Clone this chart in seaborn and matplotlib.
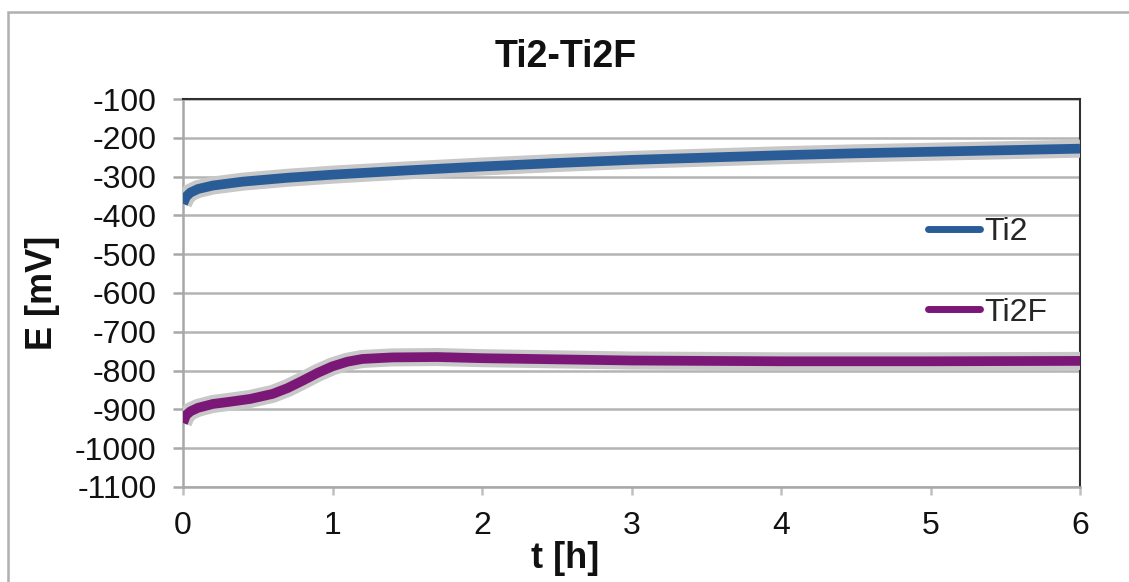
import matplotlib
matplotlib.use("Agg")
import matplotlib.pyplot as plt
import matplotlib.patheffects as pe
from matplotlib.lines import Line2D
from matplotlib.patches import Rectangle
import seaborn as sns
import pandas as pd

# ---- data ----
t_ti2 = [0, 0.02, 0.05, 0.1, 0.2, 0.4, 0.7, 1.0, 1.5, 2.0, 2.5, 3.0, 3.5, 4.0, 4.5, 5.0, 5.5, 6.0]
e_ti2 = [-370, -352, -341, -332, -323, -313, -303, -295, -284, -274, -265, -257, -251, -245, -240, -236, -232, -228]

t_ti2f = [0, 0.02, 0.05, 0.1, 0.2, 0.3, 0.45, 0.6, 0.7, 0.8, 0.9, 1.0, 1.1, 1.2, 1.4, 1.7, 2.0, 2.5, 3.0, 3.5, 4.0, 5.0, 6.0]
e_ti2f = [-935, -915, -905, -896, -886, -881, -873, -860, -845, -826, -806, -789, -777, -770, -766, -765, -768, -771, -774, -775, -776, -776, -775]

series_names = ["Ti2", "Ti2F"]
series_colors = ["#2a5d98", "#7b1877"]
title = "Ti2-Ti2F"
xlabel = "t [h]"
ylabel = "E [mV]"
yticks = list(range(-1100, 0, 100))
xticks = [0, 1, 2, 3, 4, 5, 6]

df = pd.concat([
    pd.DataFrame({"t": t_ti2, "E": e_ti2, "s": series_names[0]}),
    pd.DataFrame({"t": t_ti2f, "E": e_ti2f, "s": series_names[1]}),
])

sns.set_theme(style="white")
plt.rcParams["font.family"] = ["Liberation Sans", "DejaVu Sans"]
plt.rcParams["axes.unicode_minus"] = False

fig = plt.figure(figsize=(11.29, 5.82), dpi=100)
ax = fig.add_axes([183/1129, 1-487/582, (1080-183)/1129, (487-99)/582])

sns.lineplot(data=df, x="t", y="E", hue="s", palette=series_colors,
             linewidth=7, legend=False, ax=ax, sort=False,
             estimator=None)
for ln in ax.lines:
    ln.set_solid_capstyle("butt")
    ln.set_path_effects([pe.Stroke(linewidth=13, foreground="#c8c8c8"), pe.Normal()])
    ln.set_zorder(3)

ax.set_xlim(0, 6)
ax.set_ylim(-1100, -100)
ax.set_xticks(xticks)
ax.set_yticks(yticks)
ax.yaxis.grid(True, color="#b4b4b4", linewidth=1.8)
ax.xaxis.grid(False)
ax.set_axisbelow(True)

for side in ["left", "bottom"]:
    ax.spines[side].set_color("#a8a8a8")
    ax.spines[side].set_linewidth(1.8)
    ax.spines[side].set_zorder(2.5)
for side in ["top", "right"]:
    ax.spines[side].set_color("#303030")
    ax.spines[side].set_linewidth(1.5)

ax.tick_params(axis="y", direction="out", length=7, width=1.8, color="#a8a8a8",
               labelsize=23, pad=12, left=True)
ax.tick_params(axis="x", direction="out", length=6, width=1.8, color="#c0c0c0",
               labelsize=23, pad=11, bottom=True)
for lab in ax.get_xticklabels() + ax.get_yticklabels():
    lab.set_color("#111111")

ax.set_xlabel(xlabel, fontsize=26, fontweight="bold", color="#111111")
ax.set_ylabel(ylabel, fontsize=26, fontweight="bold", color="#111111")
ax.xaxis.set_label_coords(0.426, -0.14)
ax.yaxis.set_label_coords(-0.137, 0.5)

fig.text(566/1129, 1-57/582, title, ha="center", va="center",
         fontsize=27, fontweight="bold", color="#111111")

handles = [Line2D([0], [0], color=c, linewidth=5, solid_capstyle="round") for c in series_colors]
ax.legend(handles, series_names, loc="center left", bbox_to_anchor=(0.831, 0.553),
          frameon=False, fontsize=23, handlelength=1.6, handletextpad=0.15,
          labelspacing=1.57, borderpad=0, borderaxespad=0)

fig.add_artist(Rectangle((8/1129, -0.1), 1.5, (582-12)/582 + 0.1,
                         transform=fig.transFigure, fill=False,
                         edgecolor="#b0b0b0", linewidth=1.8))

fig.savefig("out.png", dpi=100, facecolor="white")
